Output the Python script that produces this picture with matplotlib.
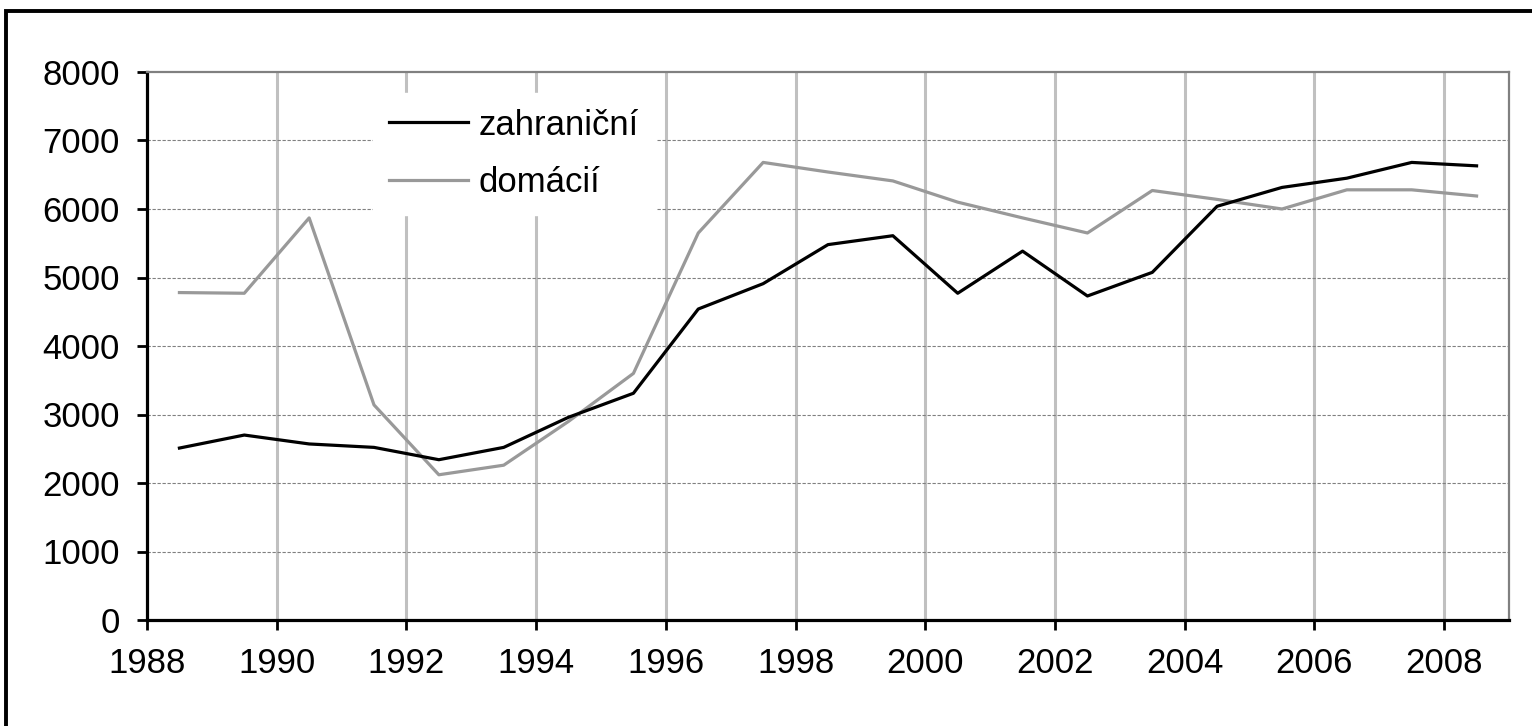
import matplotlib
matplotlib.use("Agg")
import matplotlib.pyplot as plt
import numpy as np
from matplotlib.patches import Rectangle

# data (values per year, plotted mid-year)
years = list(range(1988, 2009))
zahranicni = [2510, 2700, 2570, 2520, 2340, 2520, 2960, 3310, 4540, 4910, 5480,
              5610, 4770, 5385, 4730, 5075, 6040, 6315, 6450, 6680, 6630]
domaci = [4780, 4770, 5870, 3140, 2120, 2260, 2900, 3600, 5650, 6680, 6540,
          6410, 6100, 5870, 5650, 6270, 6140, 6000, 6280, 6280, 6190]
labels = ["zahraniční", "domácií"]
yticks = list(range(0, 8001, 1000))
xticks = list(range(1988, 2009, 2))

plt.rcParams['font.family'] = ['Liberation Sans', 'DejaVu Sans']
FS = 25

W, H = 1532, 726
fig = plt.figure(figsize=(W / 100, H / 100), dpi=100)
ax = fig.add_axes([147 / W, 1 - 620 / H, (1509 - 147) / W, (620 - 72) / H])

x = np.array(years) + 0.5
ax.plot(x, zahranicni, color='black', lw=2.3, label=labels[0], zorder=4)
ax.plot(x, domaci, color='#999999', lw=2.3, label=labels[1], zorder=3)

ax.set_xlim(1988, 2009)
ax.set_ylim(0, 8000)
ax.set_xticks(xticks)
ax.set_yticks(yticks)

# grid
for xv in xticks[1:]:
    ax.axvline(xv, color='#c0c0c0', lw=2.2, zorder=1)
for yv in yticks[1:-1]:
    ax.axhline(yv, color='#808080', lw=0.8, ls=(0, (3, 1.5)), zorder=1)

for s in ['left', 'bottom']:
    ax.spines[s].set_color('black')
    ax.spines[s].set_linewidth(2.3)
for s in ['top', 'right']:
    ax.spines[s].set_color('#808080')
    ax.spines[s].set_linewidth(1.6)

ax.tick_params(axis='both', direction='out', length=7.5, width=2.0,
               color='black', labelsize=FS)
ax.tick_params(axis='y', pad=12)
ax.tick_params(axis='x', pad=12)

leg = ax.legend(loc='upper left', bbox_to_anchor=(373 / W, 1 - 93 / H),
                bbox_transform=fig.transFigure, borderaxespad=0,
                fontsize=FS, handlelength=2.3, handletextpad=0.3,
                labelspacing=0.7, borderpad=0.45, fancybox=False,
                framealpha=1.0)
leg.get_frame().set_edgecolor('white')
leg.get_frame().set_facecolor('white')
leg.set_zorder(5)

# outer frame of the chart
fig.patches.append(Rectangle((6 / W, -0.05), 1.1, 1.05 - 11.5 / H,
                             transform=fig.transFigure, fill=False,
                             edgecolor='black', lw=2.8))

fig.savefig('out.png', dpi=100, facecolor='white')
